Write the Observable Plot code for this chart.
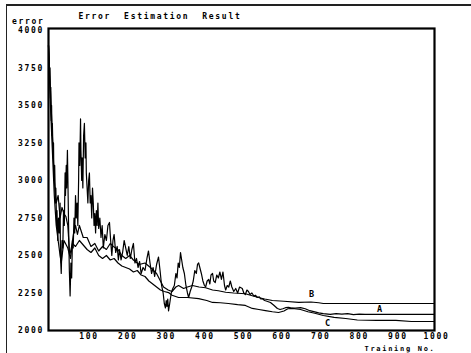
<!DOCTYPE html>
<html>
<head>
<meta charset="utf-8">
<script src="https://cdn.jsdelivr.net/npm/d3@7"></script>
<script src="https://cdn.jsdelivr.net/npm/@observablehq/plot@0.6"></script>
<style>
  html, body { margin: 0; padding: 0; background: #fff; }
  #wrap { position: relative; width: 471px; height: 353px; overflow: hidden; }
  #deco { position: absolute; left: 6px; top: 4px; right: 0; bottom: -2px;
          border-top: 2px solid #222; border-left: 1px solid #222; pointer-events: none; }
  #wrap svg text { letter-spacing: 1.7px; }
  #wrap svg text.ttl { letter-spacing: 1.4px; }
  #wrap svg text.etl { letter-spacing: 1.2px; }
  #wrap svg text.xtl { letter-spacing: 0.9px; }
  #wrap svg text.cl { letter-spacing: 0; }
</style>
</head>
<body>
<div id="wrap"><div id="deco"></div></div>
<script>
// ---- data ----
const titleText = "Error  Estimation  Result";
const yAxisTitle = "error";
const xAxisTitle = "Training No.";
const xTicks = [100, 200, 300, 400, 500, 600, 700, 800, 900, 1000];
const yTicks = [2000, 2250, 2500, 2750, 3000, 3250, 3500, 3750, 4000];

// Series A (noisy curve), [training no., error]
const seriesA = [
  [0,3900],[2,3800],[3,3650],[4,3750],[5,3550],[6,3620],[7,3400],[8,3500],[9,3300],[10,3380],
  [12,3150],[13,3250],[14,3000],[16,3100],[18,2850],[19,2950],[21,2700],[22,2800],[24,2600],[26,2750],
  [28,2650],[30,2850],[31,2500],[33,2380],[35,2600],[37,2550],[39,2800],[41,2700],[43,3050],[44,2900],
  [46,3100],[47,2950],[49,3200],[50,3050],[52,2700],[54,2400],[56,2230],[58,2450],[60,2350],[62,2600],
  [64,2550],[66,2750],[68,2650],[70,2900],[72,2750],[74,2850],[76,2700],[78,3000],[79,3250],[81,3100],
  [83,3410],[84,3200],[86,3000],[87,3150],[89,2950],[91,3300],[93,3380],[95,3150],[97,3250],[98,3050],
  [100,2950],[102,2850],[104,3000],[106,3050],[108,2850],[110,2900],[112,2750],[114,2950],[116,2850],[118,2700],
  [120,2780],[122,2650],[124,2800],[126,2700],[128,2850],[130,2680],[133,2750],[136,2620],[139,2700],[142,2550],
  [146,2640],[150,2600],[154,2700],[158,2720],[161,2600],[164,2500],[167,2600],[170,2640],[174,2520],[178,2560],
  [181,2470],[184,2540],[188,2470],[192,2520],[196,2600],[200,2550],[204,2500],[208,2560],[212,2480],[216,2540],
  [220,2580],[224,2450],[228,2480],[232,2420],[236,2460],[240,2380],[245,2420],[250,2400],[255,2480],[259,2530],
  [263,2450],[267,2380],[271,2420],[275,2360],[280,2440],[285,2490],[289,2400],[293,2300],[297,2250],[300,2180],
  [303,2150],[305,2200],[307,2160],[309,2210],[311,2130],[314,2180],[318,2250],[322,2280],[326,2300],[330,2380],
  [333,2350],[336,2450],[339,2420],[342,2520],[345,2470],[348,2420],[352,2380],[356,2300],[360,2250],[363,2220],
  [367,2260],[371,2290],[375,2330],[379,2400],[383,2380],[386,2440],[389,2450],[392,2420],[396,2380],[400,2330],
  [404,2300],[407,2290],[411,2330],[415,2340],[418,2310],[421,2370],[425,2380],[428,2330],[432,2320],[436,2370],
  [440,2350],[444,2390],[448,2340],[452,2390],[456,2300],[459,2270],[463,2300],[467,2290],[471,2330],[475,2290],
  [480,2260],[485,2280],[490,2250],[495,2290],[502,2280],[506,2250],[510,2240],[514,2270],[518,2260],[522,2240],
  [527,2250],[532,2230],[536,2235],[541,2220],[546,2225],[550,2210],[554,2212],[560,2200],[566,2195],[575,2187],
  [583,2170],[593,2147],[600,2140],[607,2145],[614,2152],[622,2155],[630,2150],[640,2150],[653,2152],[665,2145],
  [677,2132],[690,2124],[700,2118],[712,2113],[730,2108],[745,2112],[760,2109],[775,2113],[790,2106],[805,2109],
  [820,2107],[850,2107],[1000,2107]
];

// Series B (middle curve, flattens at the top on the right)
const seriesB = [
  [0,3900],[3,3700],[5,3600],[8,3420],[10,3300],[13,3120],[15,3000],[18,2900],[20,2850],[25,2900],
  [30,2750],[35,2820],[40,2780],[45,2760],[50,2700],[55,2500],[60,2560],[65,2650],[70,2700],[75,2640],
  [80,2700],[90,2620],[100,2620],[110,2560],[120,2580],[130,2530],[140,2560],[150,2540],[160,2580],[168,2560],
  [180,2540],[190,2500],[200,2480],[210,2500],[220,2470],[235,2440],[250,2450],[264,2420],[280,2380],[290,2330],
  [298,2290],[310,2270],[320,2260],[330,2290],[337,2300],[350,2280],[360,2290],[373,2300],[390,2290],[407,2285],
  [425,2270],[440,2265],[459,2255],[480,2250],[510,2245],[530,2230],[544,2220],[560,2210],[580,2200],[610,2195],
  [648,2187],[680,2190],[700,2185],[712,2180],[1000,2180]
];

// Series C (smoothest, lowest on the right)
const seriesC = [
  [0,3900],[3,3650],[5,3500],[8,3320],[10,3200],[13,3020],[15,2900],[18,2780],[20,2700],[25,2600],
  [30,2500],[33,2450],[40,2600],[50,2550],[57,2480],[62,2580],[70,2560],[80,2600],[90,2570],[100,2540],
  [110,2520],[120,2550],[130,2500],[140,2480],[150,2500],[160,2470],[170,2480],[180,2450],[190,2430],[200,2420],
  [210,2410],[220,2390],[230,2400],[240,2370],[250,2360],[260,2330],[270,2310],[280,2290],[290,2270],[300,2260],
  [311,2253],[320,2235],[337,2220],[360,2220],[389,2213],[410,2200],[425,2187],[445,2185],[466,2180],[490,2172],
  [510,2167],[528,2147],[545,2140],[562,2133],[580,2125],[596,2120],[610,2130],[620,2145],[632,2147],[653,2140],
  [672,2125],[690,2115],[712,2100],[740,2087],[770,2080],[800,2070],[850,2067],[900,2067],[940,2060],[1000,2060]
];

// curve labels: [name, training no., error]
const curveLabels = [["B", 684, 2240], ["A", 860, 2140], ["C", 725, 2047]];

// ---- build ----
const toRows = (arr) => arr.map(([x, v]) => ({x, v}));
const labelRows = curveLabels.map(([t, x, v]) => ({t, x, v}));

const chart = Plot.plot({
  width: 471,
  height: 353,
  marginLeft: 48,
  marginRight: 37,
  marginTop: 28,
  marginBottom: 23,
  x: {domain: [0, 1000]},
  y: {domain: [2000, 4013]},
  style: {
    fontFamily: "'DejaVu Sans Mono', monospace",
    fontWeight: "bold",
    fontSize: "8px",
    background: "transparent",
    color: "#000"
  },
  marks: [
    Plot.axisY({ticks: yTicks, tickSize: 0, tickPadding: 4.5, label: null, tickFormat: d => String(d)}),
    Plot.axisX({ticks: xTicks, tickSize: 0, tickPadding: 3, label: null, dx: 2, tickFormat: d => String(d)}),
    Plot.line(toRows(seriesA), {x: "x", y: "v", stroke: "#000", strokeWidth: 1.2}),
    Plot.line(toRows(seriesB), {x: "x", y: "v", stroke: "#000", strokeWidth: 1.2}),
    Plot.line(toRows(seriesC), {x: "x", y: "v", stroke: "#000", strokeWidth: 1.2}),
    Plot.text(labelRows, {x: "x", y: "v", text: "t", fontSize: 8.5, fontWeight: "bold", fill: "#000", className: "cl"}),
    Plot.frame({stroke: "#000", strokeWidth: 2.2}),
    Plot.text([titleText], {frameAnchor: "top-left", lineAnchor: "middle", textAnchor: "start", dx: 30, dy: -12, fontSize: 8, fontWeight: "bold", fill: "#000", className: "ttl"}),
    Plot.text([yAxisTitle], {frameAnchor: "top-left", lineAnchor: "middle", textAnchor: "end", dx: -4, dy: -7, fontSize: 8, fontWeight: "bold", fill: "#000", className: "etl"}),
    Plot.text([xAxisTitle], {frameAnchor: "bottom-right", lineAnchor: "middle", textAnchor: "end", dx: 1, dy: 18, fontSize: 7, fontWeight: "bold", fill: "#000", className: "xtl"})
  ]
});
document.getElementById("wrap").prepend(chart);
</script>
</body>
</html>
